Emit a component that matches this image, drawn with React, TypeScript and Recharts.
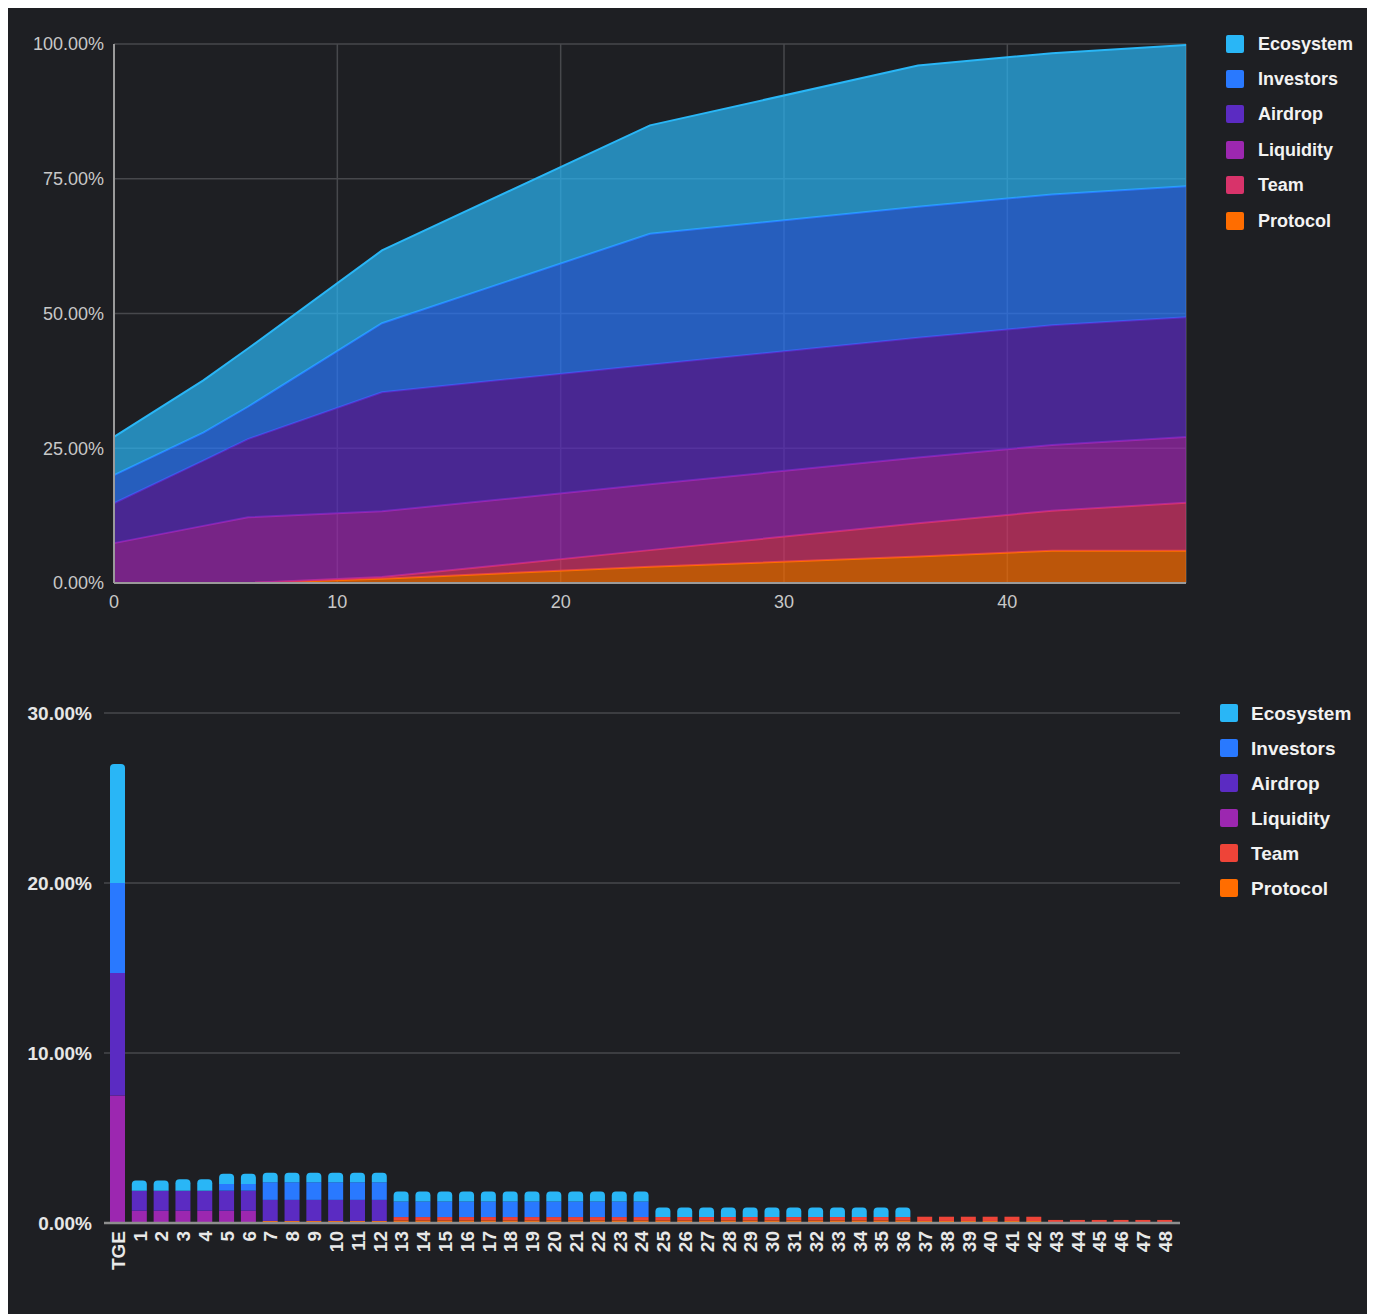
import React from 'react';
import { AreaChart, Area, XAxis, YAxis, CartesianGrid, BarChart, Bar } from 'recharts';

// ---------- shared ----------
const seriesNames = ['Ecosystem', 'Investors', 'Airdrop', 'Liquidity', 'Team', 'Protocol'];
const stackOrder = ['Protocol', 'Team', 'Liquidity', 'Airdrop', 'Investors', 'Ecosystem'];

const areaColors: Record<string, string> = {
  Ecosystem: '#29b6f6',
  Investors: '#2979ff',
  Airdrop: '#5b2bc2',
  Liquidity: '#9c27b0',
  Team: '#d8336a',
  Protocol: '#ff6d00',
};
const barColors: Record<string, string> = {
  Ecosystem: '#29b6f6',
  Investors: '#2979ff',
  Airdrop: '#5b2bc2',
  Liquidity: '#9c27b0',
  Team: '#ee4438',
  Protocol: '#ff6d00',
};

// ---------- top chart: cumulative unlocked (%) ----------
const areaMonths = [0, 4, 6, 12, 24, 36, 42, 48];
const areaProtocol = [0, 0, 0, 0.8, 3.0, 4.9, 6.0, 6.0];
const areaTeam = [0, 0, 0, 0.3, 3.1, 6.2, 7.4, 8.9];
const areaLiquidity = [7.4, 10.6, 12.2, 12.2, 12.2, 12.2, 12.2, 12.2];
const areaAirdrop = [7.4, 12.1, 14.5, 22.1, 22.2, 22.2, 22.2, 22.2];
const areaInvestors = [5.2, 5.2, 6.0, 12.8, 24.3, 24.3, 24.3, 24.3];
const areaEcosystem = [7.1, 9.7, 10.8, 13.5, 20.1, 26.2, 26.2, 26.2];
const areaXTicks = [0, 10, 20, 30, 40];
const areaYTicks = [0, 25, 50, 75, 100];

// ---------- bottom chart: monthly unlock (%) ----------
const barCategories = [
  'TGE', '1', '2', '3', '4', '5', '6', '7', '8', '9', '10', '11', '12',
  '13', '14', '15', '16', '17', '18', '19', '20', '21', '22', '23', '24',
  '25', '26', '27', '28', '29', '30', '31', '32', '33', '34', '35', '36',
  '37', '38', '39', '40', '41', '42', '43', '44', '45', '46', '47', '48',
];
const barProtocol = [
  0, 0, 0, 0, 0, 0, 0, 0.12, 0.12, 0.12, 0.12, 0.12, 0.12,
  0.15, 0.15, 0.15, 0.15, 0.15, 0.15, 0.15, 0.15, 0.15, 0.15, 0.15, 0.15,
  0.15, 0.15, 0.15, 0.15, 0.15, 0.15, 0.15, 0.15, 0.15, 0.15, 0.15, 0.15,
  0.12, 0.12, 0.12, 0.12, 0.12, 0.12, 0, 0, 0, 0, 0, 0,
];
const barTeam = [
  0, 0, 0, 0, 0, 0, 0, 0, 0, 0, 0, 0, 0,
  0.2, 0.2, 0.2, 0.2, 0.2, 0.2, 0.2, 0.2, 0.2, 0.2, 0.2, 0.2,
  0.2, 0.2, 0.2, 0.2, 0.2, 0.2, 0.2, 0.2, 0.2, 0.2, 0.2, 0.2,
  0.25, 0.25, 0.25, 0.25, 0.25, 0.25, 0.18, 0.18, 0.18, 0.18, 0.18, 0.18,
];
const barLiquidity = [
  7.5, 0.72, 0.72, 0.72, 0.72, 0.72, 0.72, 0, 0, 0, 0, 0, 0,
  0, 0, 0, 0, 0, 0, 0, 0, 0, 0, 0, 0,
  0, 0, 0, 0, 0, 0, 0, 0, 0, 0, 0, 0,
  0, 0, 0, 0, 0, 0, 0, 0, 0, 0, 0, 0,
];
const barAirdrop = [
  7.2, 1.18, 1.18, 1.18, 1.18, 1.18, 1.18, 1.24, 1.24, 1.24, 1.24, 1.24, 1.24,
  0, 0, 0, 0, 0, 0, 0, 0, 0, 0, 0, 0,
  0, 0, 0, 0, 0, 0, 0, 0, 0, 0, 0, 0,
  0, 0, 0, 0, 0, 0, 0, 0, 0, 0, 0, 0,
];
const barInvestors = [
  5.3, 0, 0, 0, 0, 0.4, 0.4, 1.04, 1.04, 1.04, 1.04, 1.04, 1.04,
  0.92, 0.92, 0.92, 0.92, 0.92, 0.92, 0.92, 0.92, 0.92, 0.92, 0.92, 0.92,
  0, 0, 0, 0, 0, 0, 0, 0, 0, 0, 0, 0,
  0, 0, 0, 0, 0, 0, 0, 0, 0, 0, 0, 0,
];
const barEcosystem = [
  7.0, 0.6, 0.6, 0.67, 0.67, 0.59, 0.59, 0.56, 0.56, 0.56, 0.56, 0.56, 0.56,
  0.59, 0.59, 0.59, 0.59, 0.59, 0.59, 0.59, 0.59, 0.59, 0.59, 0.59, 0.59,
  0.56, 0.56, 0.56, 0.56, 0.56, 0.56, 0.56, 0.56, 0.56, 0.56, 0.56, 0.56,
  0, 0, 0, 0, 0, 0, 0, 0, 0, 0, 0, 0,
];
const barYTicks = [0, 10, 20, 30];

// ---------- tables ----------
const areaData = areaMonths.map((m, i) => ({
  month: m,
  Protocol: areaProtocol[i],
  Team: areaTeam[i],
  Liquidity: areaLiquidity[i],
  Airdrop: areaAirdrop[i],
  Investors: areaInvestors[i],
  Ecosystem: areaEcosystem[i],
}));

const barData = barCategories.map((c, i) => ({
  label: c,
  Protocol: barProtocol[i],
  Team: barTeam[i],
  Liquidity: barLiquidity[i],
  Airdrop: barAirdrop[i],
  Investors: barInvestors[i],
  Ecosystem: barEcosystem[i],
}));

const pct = (v: number) => `${v.toFixed(2)}%`;
const FONT = '"Liberation Sans", Arial, Helvetica, sans-serif';

const RotatedTick = (props: any) => {
  const { x, y, payload } = props;
  return (
    <g transform={`translate(${x},${y})`}>
      <text
        transform="rotate(-90)"
        x={0}
        y={0}
        dy="0.36em"
        textAnchor="end"
        fill="#e8e8e8"
        fontSize={19}
        fontWeight="bold"
        fontFamily={FONT}
      >
        {payload.value}
      </text>
    </g>
  );
};

type LegendProps = {
  colors: Record<string, string>;
  left: number;
  top: number;
  rowH: number;
  gap: number;
  fontSize: number;
};
const LegendBox = ({ colors, left, top, rowH, gap, fontSize }: LegendProps) => (
  <div style={{ position: 'absolute', left, top, fontFamily: FONT }}>
    {seriesNames.map((n) => (
      <div key={n} style={{ height: rowH, display: 'flex', alignItems: 'center' }}>
        <div style={{ width: 18, height: 18, background: colors[n], borderRadius: 2, marginRight: gap }} />
        <span style={{ color: '#f2f2f2', fontWeight: 'bold', fontSize, lineHeight: 1 }}>{n}</span>
      </div>
    ))}
  </div>
);

export default function App() {
  return (
    <div style={{ position: 'relative', width: 1362, height: 1306, background: '#1e1f23', fontFamily: FONT }}>
      <div style={{ position: 'absolute', left: 0, top: 0 }}>
        <AreaChart width={1362} height={620} data={areaData} margin={{ top: 36, right: 184, left: 0, bottom: 15 }}>
          <CartesianGrid stroke="#47484c" strokeWidth={1.5} />
          <XAxis
            type="number"
            dataKey="month"
            domain={[0, 48]}
            ticks={areaXTicks}
            height={30}
            tickLine={false}
            axisLine={{ stroke: '#9a9a9a', strokeWidth: 2 }}
            tick={{ fill: '#c8c8c8', fontSize: 18, fontFamily: FONT }}
            tickMargin={6}
          />
          <YAxis
            domain={[0, 100]}
            ticks={areaYTicks}
            width={106}
            tickLine={false}
            axisLine={{ stroke: '#9a9a9a', strokeWidth: 2 }}
            tick={{ fill: '#c8c8c8', fontSize: 18, fontFamily: FONT }}
            tickMargin={4}
            tickFormatter={pct}
          />
          {stackOrder.map((k) => (
            <Area
              key={k}
              type="linear"
              dataKey={k}
              stackId="1"
              stroke={areaColors[k]}
              strokeWidth={2}
              fill={areaColors[k]}
              fillOpacity={0.7}
              dot={false}
              activeDot={false}
              isAnimationActive={false}
            />
          ))}
        </AreaChart>
      </div>
      <LegendBox colors={areaColors} left={1218} top={18} rowH={35.4} gap={14} fontSize={18} />

      <div style={{ position: 'absolute', left: 0, top: 650 }}>
        <BarChart width={1362} height={645} data={barData} margin={{ top: 55, right: 190, left: 0, bottom: 10 }}>
          <CartesianGrid stroke="#47484c" strokeWidth={1.5} vertical={false} />
          <XAxis
            dataKey="label"
            interval={0}
            height={70}
            padding={{ left: 3, right: 4 }}
            tickLine={false}
            axisLine={{ stroke: '#8e8e8e', strokeWidth: 2.5 }}
            tick={<RotatedTick />}
          />
          <YAxis
            domain={[0, 30]}
            ticks={barYTicks}
            width={96}
            tickLine={false}
            axisLine={false}
            tick={{ fill: '#e6e6e6', fontSize: 19, fontWeight: 'bold', fontFamily: FONT }}
            tickMargin={6}
            tickFormatter={pct}
          />
          {stackOrder.map((k) => (
            <Bar
              key={k}
              dataKey={k}
              stackId="b"
              barSize={15}
              fill={barColors[k]}
              radius={k === 'Ecosystem' ? [4, 4, 0, 0] : 0}
              isAnimationActive={false}
            />
          ))}
        </BarChart>
      </div>
      <LegendBox colors={barColors} left={1212} top={687.5} rowH={35} gap={13} fontSize={19} />
    </div>
  );
}
